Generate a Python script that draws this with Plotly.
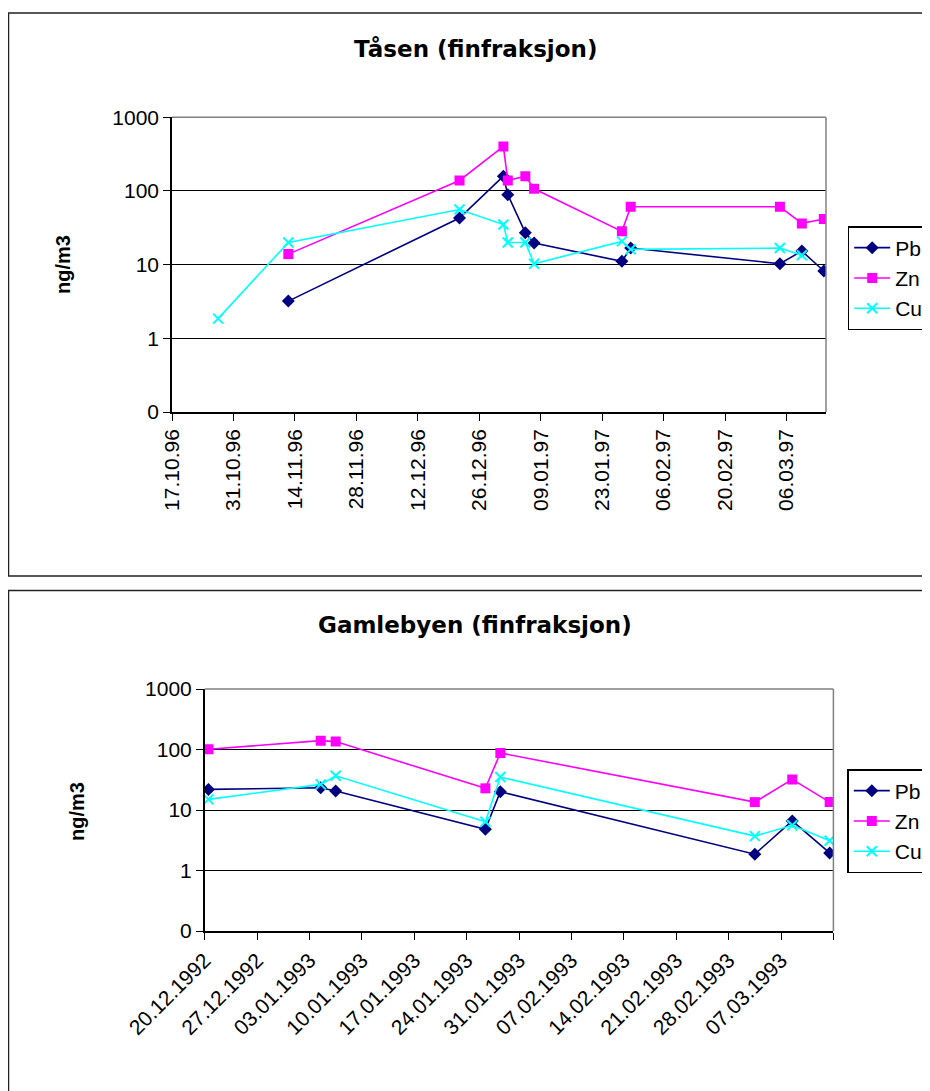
import plotly.graph_objects as go
import pandas as pd

# ---------------- data: Tåsen (finfraksjon) ----------------
tasen_dates = ["1996-10-27", "1996-11-12", "1996-12-21", "1996-12-31", "1997-01-01",
               "1997-01-05", "1997-01-07", "1997-01-27", "1997-01-29", "1997-03-04",
               "1997-03-09", "1997-03-14"]
tasen_pb = [None, 3.2, 43, 159, 89, 27, 19.6, 11.1, 16.8, 10.3, 15.3, 8.2]
tasen_zn = [None, 13.9, 139, 403, 139, 159, 107, 28.3, 61, 61, 36.3, 41.6]
tasen_cu = [1.85, 20, 56, 35, 20, 20, 10.3, 20.7, 16.1, 16.8, 13.4, None]
tasen_tickdates = ["1996-10-17", "1996-10-31", "1996-11-14", "1996-11-28", "1996-12-12",
                   "1996-12-26", "1997-01-09", "1997-01-23", "1997-02-06", "1997-02-20",
                   "1997-03-06"]
tasen_ticklabels = ["17.10.96", "31.10.96", "14.11.96", "28.11.96", "12.12.96", "26.12.96",
                    "09.01.97", "23.01.97", "06.02.97", "20.02.97", "06.03.97"]

# ---------------- data: Gamlebyen (finfraksjon) ----------------
gamle_dates = ["1992-12-20", "1993-01-04", "1993-01-06", "1993-01-26", "1993-01-28",
               "1993-03-03", "1993-03-08", "1993-03-13"]
gamle_pb = [21.9, 23.3, 20.6, 4.8, 20, 1.86, 6.6, 1.95]
gamle_zn = [101, 140, 135, 22.8, 87.5, 13.5, 32, 13.5]
gamle_cu = [15, 26.5, 36.8, 6.4, 35, 3.7, 5.6, 3.1]
gamle_tickdates = ["1992-12-20", "1992-12-27", "1993-01-03", "1993-01-10", "1993-01-17",
                   "1993-01-24", "1993-01-31", "1993-02-07", "1993-02-14", "1993-02-21",
                   "1993-02-28", "1993-03-07", "1993-03-14"]
gamle_ticklabels = ["20.12.1992", "27.12.1992", "03.01.1993", "10.01.1993", "17.01.1993",
                    "24.01.1993", "31.01.1993", "07.02.1993", "14.02.1993", "21.02.1993",
                    "28.02.1993", "07.03.1993", ""]

y_tickvals = [0.1, 1, 10, 100, 1000]
y_ticklabels = ["0", "1", "10", "100", "1000"]

# ---------------- figure ----------------
# the page body has an 8px margin, so the figure is drawn 8px in from the window corner
OFF = 8
W, H = 940, 1091 - OFF
FONT = "Liberation Sans, Arial, sans-serif"

def slot(dates):
    # Excel date axis: points sit in the middle of each day slot
    return pd.to_datetime(dates) + pd.Timedelta(hours=12)

styles = {
    "Pb": dict(color="#000080", symbol="diamond", size=10, lw=1.6),
    "Zn": dict(color="#FF00FF", symbol="square", size=10, lw=1.6),
    "Cu": dict(color="#00FFFF", symbol="x-thin-open", size=10, lw=1.6),
}

fig = go.Figure()

def add_series(name, x, y, xa, ya, legend):
    s = styles[name]
    fig.add_trace(go.Scatter(
        x=x, y=y, name=name, mode="lines+markers", xaxis=xa, yaxis=ya,
        legend=legend, connectgaps=False,
        line=dict(color=s["color"], width=s["lw"]),
        marker=dict(symbol=s["symbol"], size=s["size"], color=s["color"],
                    line=dict(color=s["color"], width=2 if name == "Cu" else 0)),
    ))

xt = slot(tasen_dates)
add_series("Pb", xt, tasen_pb, "x", "y", "legend")
add_series("Zn", xt, tasen_zn, "x", "y", "legend")
add_series("Cu", xt, tasen_cu, "x", "y", "legend")

xg = slot(gamle_dates)
add_series("Pb", xg, gamle_pb, "x2", "y2", "legend2")
add_series("Zn", xg, gamle_zn, "x2", "y2", "legend2")
add_series("Cu", xg, gamle_cu, "x2", "y2", "legend2")

def px_x(v):
    return (v - OFF) / W

def px_y(v):
    return 1 - (v - OFF) / H

tick_font = dict(family=FONT, size=21, color="black")

yaxis_common = dict(
    type="log", range=[-1, 3], tickvals=y_tickvals, ticktext=y_ticklabels,
    showgrid=True, gridcolor="black", gridwidth=1, showline=True, linecolor="black",
    linewidth=1.5, ticks="outside", ticklen=7, tickcolor="black", tickfont=tick_font,
    zeroline=False, mirror=False,
)
xaxis_common = dict(
    type="date", showgrid=False, showline=True, linecolor="black", linewidth=1.5,
    ticks="outside", ticklen=7, tickcolor="black", tickfont=tick_font, zeroline=False,
)

fig.update_layout(
    width=W, height=H, margin=dict(l=0, r=0, t=0, b=0, autoexpand=False),
    paper_bgcolor="white", plot_bgcolor="white",
    xaxis=dict(**xaxis_common, domain=[px_x(172), px_x(826)], anchor="y",
               range=["1996-10-17", "1997-03-15"],
               tickvals=pd.to_datetime(tasen_tickdates), ticktext=tasen_ticklabels,
               tickangle=-90),
    yaxis=dict(**yaxis_common, domain=[px_y(412), px_y(117.3)], anchor="x"),
    xaxis2=dict(**xaxis_common, domain=[px_x(204.7), px_x(833.4)], anchor="y2",
                range=["1992-12-20", "1993-03-14"],
                tickvals=pd.to_datetime(gamle_tickdates), ticktext=gamle_ticklabels,
                tickangle=-45),
    yaxis2=dict(**yaxis_common, domain=[px_y(931), px_y(689)], anchor="x2"),
    legend=dict(x=px_x(847.7), y=px_y(226), xanchor="left", yanchor="top",
                bordercolor="black", borderwidth=1.5, bgcolor="white",
                font=dict(family=FONT, size=21, color="black"), itemwidth=36,
                tracegroupgap=8),
    legend2=dict(x=px_x(847.3), y=px_y(769), xanchor="left", yanchor="top",
                 bordercolor="black", borderwidth=1.5, bgcolor="white",
                 font=dict(family=FONT, size=21, color="black"), itemwidth=36,
                 tracegroupgap=0),
    showlegend=True,
)

# outer chart boxes
fig.add_shape(type="rect", xref="paper", yref="paper",
              x0=px_x(8.5), x1=px_x(960), y0=px_y(576), y1=px_y(13),
              line=dict(color="#222222", width=1.5), layer="below")
fig.add_shape(type="rect", xref="paper", yref="paper",
              x0=px_x(8.5), x1=px_x(960), y0=px_y(1110), y1=px_y(590.5),
              line=dict(color="#222222", width=1.5), layer="below")

# grey plot-area border (top and right)
for xa, ya in (("x", "y"), ("x2", "y2")):
    fig.add_shape(type="line", xref=f"{xa} domain", yref=f"{ya} domain",
                  x0=0, x1=1, y0=1, y1=1, line=dict(color="#808080", width=1.5))
    fig.add_shape(type="line", xref=f"{xa} domain", yref=f"{ya} domain",
                  x0=1, x1=1, y0=0, y1=1, line=dict(color="#808080", width=1.5))

title_font = dict(family="DejaVu Sans, sans-serif", size=23, color="black")
fig.add_annotation(text="<b>Tåsen (finfraksjon)</b>", xref="paper", yref="paper",
                   x=px_x(475), y=px_y(49), xanchor="center", yanchor="middle",
                   showarrow=False, font=title_font)
fig.add_annotation(text="<b>Gamlebyen (finfraksjon)</b>", xref="paper", yref="paper",
                   x=px_x(475), y=px_y(625), xanchor="center", yanchor="middle",
                   showarrow=False, font=title_font)

ytitle_font = dict(family=FONT, size=20, color="black")
fig.add_annotation(text="<b>ng/m3</b>", xref="paper", yref="paper", textangle=-90,
                   x=px_x(63), y=px_y(265), xanchor="center", yanchor="middle",
                   showarrow=False, font=ytitle_font)
fig.add_annotation(text="<b>ng/m3</b>", xref="paper", yref="paper", textangle=-90,
                   x=px_x(77), y=px_y(812), xanchor="center", yanchor="middle",
                   showarrow=False, font=ytitle_font)

fig.write_html("out.html")
